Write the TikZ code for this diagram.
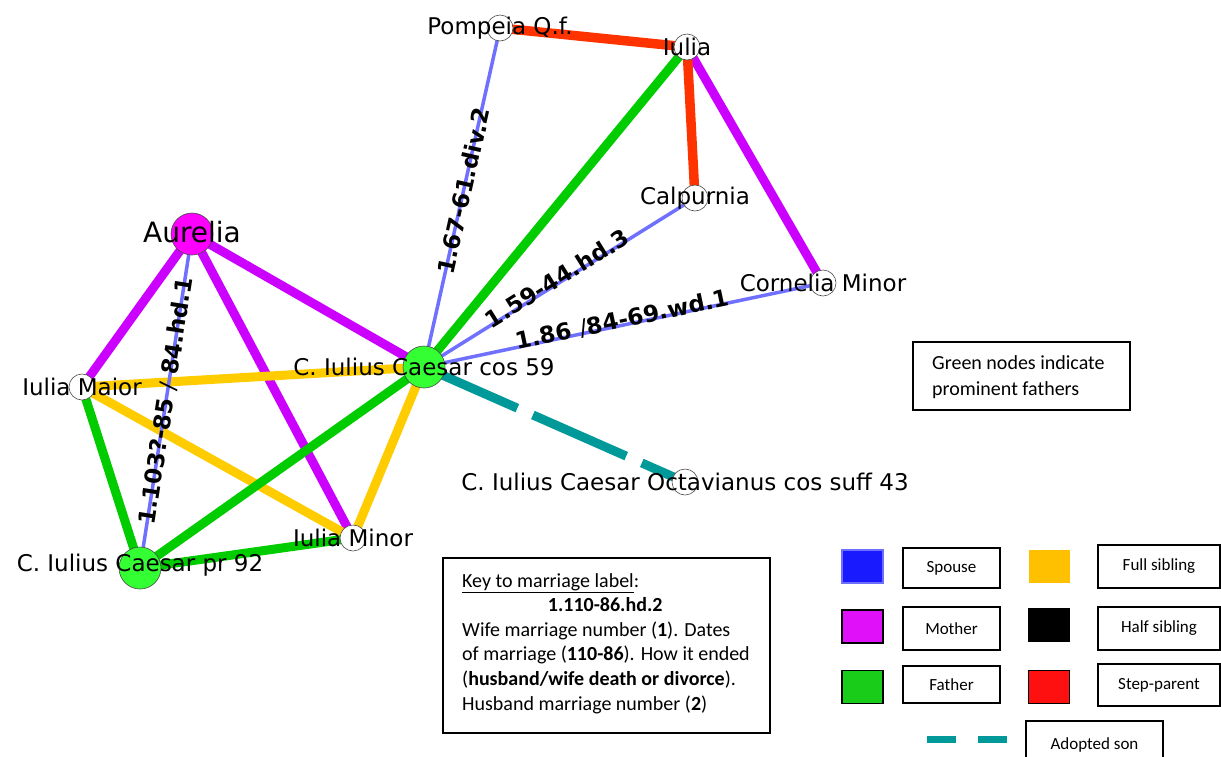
\documentclass[tikz,border=0pt]{standalone}
\usepackage{fontspec}
\setmainfont{DejaVu Sans}
\newfontfamily\legendfont{Carlito}
\usetikzlibrary{backgrounds}

% relation colours of the network
\definecolor{spouseblue}{RGB}{112,112,255}
\definecolor{stepred}{RGB}{255,51,0}
\definecolor{mothermag}{RGB}{204,0,255}
\definecolor{fathergreen}{RGB}{0,204,0}
\definecolor{sibyellow}{RGB}{255,204,0}
\definecolor{adoptteal}{RGB}{0,153,153}
\definecolor{primegreen}{RGB}{51,255,51}
\definecolor{aurmag}{RGB}{255,0,255}
% colours of the key swatches
\definecolor{keyblue}{RGB}{26,26,255}
\definecolor{keyblueedge}{RGB}{110,110,255}
\definecolor{keyyellow}{RGB}{255,192,0}
\definecolor{keymag}{RGB}{224,16,248}
\definecolor{keygreen}{RGB}{26,204,26}
\definecolor{keyred}{RGB}{255,16,16}

\tikzset{
  person/.style={circle, draw=black!70, line width=0.6pt, fill=white,
                 minimum size=26pt, inner sep=0pt},
  bigperson/.style={person, minimum size=42pt},
  namelabel/.style={font=\fontsize{23}{27}\selectfont, inner sep=0pt},
  datelabel/.style={font=\bfseries\fontsize{23}{27}\selectfont, sloped,
                    midway, inner sep=0pt},
  stepedge/.style={draw=stepred, line width=9.5pt},
  motheredge/.style={draw=mothermag, line width=9pt},
  fatheredge/.style={draw=fathergreen, line width=9pt},
  sibedge/.style={draw=sibyellow, line width=9pt},
  spouseedge/.style={draw=spouseblue, line width=3.5pt},
  adoptedge/.style={draw=adoptteal, line width=9pt,
                    dash pattern=on 102pt off 17pt},
  legbox/.style={draw=black, line width=1.2pt, rectangle, inner sep=0pt,
                 font=\legendfont\fontsize{17}{20}\selectfont},
  swatch/.style={rectangle, line width=1.2pt, inner sep=0pt,
                 minimum width=41pt, minimum height=33pt},
  notebox/.style={draw=black, line width=1.2pt, rectangle, inner sep=0pt},
  notetext/.style={font=\legendfont\fontsize{20}{24.6}\selectfont,
                   inner sep=0pt, anchor=north west, align=left}
}

\begin{document}
\begin{tikzpicture}[x=1pt,y=-1pt]
\useasboundingbox (0,0) rectangle (1221,756);

% people
\node[person] (pom) at (500,28) {};
\node[person] (iul) at (687,47) {};
\node[person] (cal) at (695,198) {};
\node[person] (cor) at (823,283) {};
\node[bigperson, fill=aurmag] (aur) at (192,234) {};
\node[bigperson, fill=primegreen] (c59) at (424,367) {};
\node[person] (mai) at (82,387) {};
\node[person] (min) at (353,538) {};
\node[bigperson, fill=primegreen] (c92) at (140,568) {};
\node[person] (oct) at (685,482) {};

% names, centred on the circles
\node[namelabel] (pom-l) at (pom) {Pompeia Q.f.};
\node[namelabel] (iul-l) at (iul) {Iulia};
\node[namelabel] (cal-l) at (cal) {Calpurnia};
\node[namelabel] (cor-l) at (cor) {Cornelia Minor};
\node[namelabel, font=\fontsize{28}{32}\selectfont] (aur-l) at ([yshift=2pt]aur) {Aurelia};
\node[namelabel] (c59-l) at (c59) {C. Iulius Caesar cos 59};
\node[namelabel] (mai-l) at (mai) {Iulia Maior};
\node[namelabel] (min-l) at (min) {Iulia Minor};
\node[namelabel] (c92-l) at ([yshift=3pt]c92) {C. Iulius Caesar pr 92};
\node[namelabel] (oct-l) at (oct) {C. Iulius Caesar Octavianus cos suff 43};

% relations, drawn beneath the circles
\begin{scope}[on background layer]
  \fill[white] (0,0) rectangle (1221,756);
  \draw[motheredge] (iul.center) -- (cor.center);
  \draw[motheredge] (aur.center) -- (mai.center);
  \draw[motheredge] (aur.center) -- (min.center);
  \draw[motheredge] (aur.center) -- (c59.center);
  \draw[stepedge] (pom.center) -- (iul.center);
  \draw[stepedge] (iul.center) -- (cal.center);
  \draw[sibedge] (mai.center) -- (c59.center);
  \draw[sibedge] (mai.center) -- (min.center);
  \draw[sibedge] (min.center) -- (c59.center);
  \draw[fatheredge] (iul.center) -- (c59.center);
  \draw[fatheredge] (c92.center) -- (mai.center);
  \draw[fatheredge] (c92.center) -- (c59.center);
  \draw[fatheredge] (c92.center) -- (min.center);
  \draw[adoptedge] (c59.center) -- (oct.center);
  \draw[spouseedge] (c59.center) -- node[datelabel, pos=0.52] {1.67-61.div.2} (pom.center);
  \draw[spouseedge] (c59.center) -- node[datelabel, yshift=5pt] {1.59-44.hd.3} (cal.center);
  \draw[spouseedge] (c59.center) -- node[datelabel, yshift=5pt] {1.86 {\mdseries/}84-69.wd.1} (cor.center);
  \draw[spouseedge] (c92.center) -- node[datelabel] {1.103?-85 {\mdseries/} 84.hd.1} (aur.center);
\end{scope}

% note on node colours
\node[notebox, minimum width=217pt, minimum height=68pt] (greennote) at (1021.5,376) {};
\node[notetext] (greennote-t) at (932,355) {Green nodes indicate\\[1.4pt]prominent fathers};

% key to the marriage labels
\node[notebox, minimum width=327pt, minimum height=175pt] (keynote) at (606.5,645.5) {};
\node[notetext] (keynote-t) at (462,573) {\underline{Key to marriage label}:\\
\makebox[286pt]{\textbf{1.110-86.hd.2}}\\
Wife marriage number (\textbf{1}). Dates\\
of marriage (\textbf{110-86}). How it ended\\
(\textbf{husband/wife death or divorce}).\\
Husband marriage number (\textbf{2})};

% colour legend
\node[swatch, fill=keyblue, draw=keyblueedge] (sw-spouse) at (862.5,566.5) {};
\node[legbox, minimum width=97pt, minimum height=40pt] (lg-spouse) at (951.5,568) {\raisebox{-3pt}{Spouse}};
\node[swatch, fill=keyyellow] (sw-full) at (1049,566.5) {};
\node[legbox, minimum width=122pt, minimum height=43pt] (lg-full) at (1159,566.5) {Full sibling};

\node[swatch, fill=keymag, draw=black] (sw-mother) at (862.5,626.5) {};
\node[legbox, minimum width=97pt, minimum height=43pt] (lg-mother) at (951.5,628.5) {Mother};
\node[swatch, fill=black, draw=black] (sw-half) at (1049,625) {};
\node[legbox, minimum width=122pt, minimum height=43pt] (lg-half) at (1159,628.5) {Half sibling};

\node[swatch, fill=keygreen, draw=black] (sw-father) at (862.5,687) {};
\node[legbox, minimum width=97pt, minimum height=37pt] (lg-father) at (951.5,684.5) {\raisebox{-2pt}{Father}};
\node[swatch, fill=keyred, draw=black] (sw-step) at (1049,687) {};
\node[legbox, minimum width=122pt, minimum height=42pt] (lg-step) at (1159,685) {Step-parent};

\coordinate (dash-a) at (927,739.5);
\coordinate (dash-b) at (1007,739.5);
\draw[draw=adoptteal, line width=7pt, dash pattern=on 29pt off 22pt] (dash-a) -- (dash-b);
\node[legbox, minimum width=137pt, minimum height=50pt] (lg-adopt) at (1094.5,746) {\raisebox{4pt}{Adopted son}};
\end{tikzpicture}
\end{document}
